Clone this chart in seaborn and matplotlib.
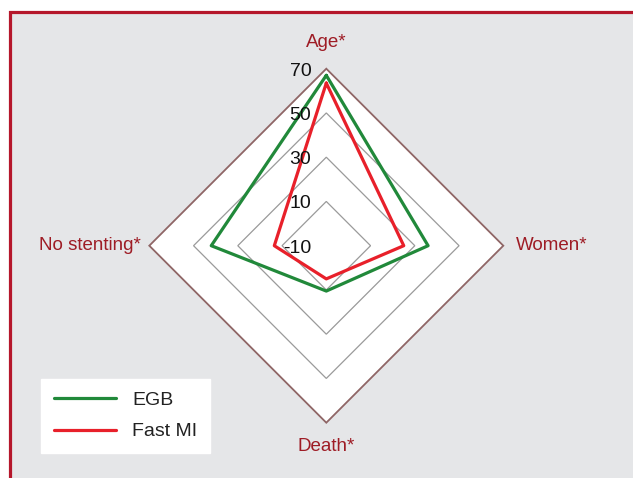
import numpy as np
import pandas as pd
import matplotlib
matplotlib.use('Agg')
import matplotlib.pyplot as plt
import seaborn as sns
from matplotlib.patches import Rectangle, Polygon
from matplotlib.lines import Line2D

# Data
categories = ['Age*', 'Women*', 'Death*', 'No stenting*']
egb = [67, 36, 10.5, 42]
fast_mi = [63.5, 25, 5, 13.5]
ring_values = [-10, 10, 30, 50, 70]
tick_labels = ['-10', '10', '30', '50', '70']

sns.set_style("white")
plt.rcParams['font.family'] = ['Liberation Sans', 'DejaVu Sans']

r_min = ring_values[0]
# angles: Age at top, then clockwise
angles = np.deg2rad([90, 0, -90, 180])


def to_xy(values):
    r = np.asarray(values, dtype=float) - r_min
    return r * np.cos(angles), r * np.sin(angles)


fig = plt.figure(figsize=(6.33, 4.78), dpi=100)
fig.patch.set_facecolor('white')

# grey panel with dark red frame on top/left
panel = Rectangle((10 / 633, -0.1), 1.2, (478 - 11.7) / 478 + 0.1,
                  transform=fig.transFigure, facecolor='#e5e6e8',
                  edgecolor='#b5172b', lw=2.3, zorder=-5)
fig.patches.append(panel)

ax = fig.add_axes([0, 0, 1, 1])
ax.set_zorder(1)
ax.set_facecolor('none')
ax.patch.set_alpha(0)
px = 177 / 80.0  # pixels per value unit
ax.set_xlim(-326.3 / px, (633 - 326.3) / px)
ax.set_ylim(-(478 - 245.7) / px, 245.7 / px)
ax.set_aspect('equal')

# rings
outer = ring_values[-1]
ox, oy = to_xy([outer] * 4)
ax.add_patch(Polygon(np.column_stack([ox, oy]), closed=True, facecolor='white',
                     edgecolor='#8f6666', lw=1.3, zorder=1))
for v in ring_values[1:-1]:
    gx, gy = to_xy([v] * 4)
    ax.add_patch(Polygon(np.column_stack([gx, gy]), closed=True, facecolor='none',
                         edgecolor='#9a9a9a', lw=0.9, zorder=2))

# series
rows = []
for name, vals in [('EGB', egb), ('Fast MI', fast_mi)]:
    xs, ys = to_xy(vals)
    for i in list(range(4)) + [0]:
        rows.append({'series': name, 'x': xs[i], 'y': ys[i]})
df = pd.DataFrame(rows)
palette = {'EGB': '#21893a', 'Fast MI': '#e8202a'}
sns.lineplot(data=df, x='x', y='y', hue='series', sort=False, estimator=None,
             palette=palette, lw=2.3, legend=False, ax=ax, zorder=4)
ax.axis('off')

# radial tick labels
for v, lab in zip(ring_values, tick_labels):
    ax.text(-15.0 / px, (v - r_min) - 2.5 / px, lab, ha='right', va='center',
            fontsize=14, color='#111111', zorder=5)

# category labels
lab_color = '#9e1c25'
fs = 13.5
R = outer - r_min
ax.text(0, R + 26 / px, categories[0], ha='center', va='center', fontsize=fs, color=lab_color)
ax.text(R + 13 / px, 0, categories[1], ha='left', va='center', fontsize=fs, color=lab_color)
ax.text(0, -R - 24 / px, categories[2], ha='center', va='center', fontsize=fs, color=lab_color)
ax.text(-R - 8 / px, 0, categories[3], ha='right', va='center', fontsize=fs, color=lab_color)

handles = [Line2D([0], [0], color=palette['EGB'], lw=2.3),
           Line2D([0], [0], color=palette['Fast MI'], lw=2.3)]
leg = ax.legend(handles, ['EGB', 'Fast MI'], loc='upper left',
                bbox_to_anchor=(41 / 633, 1 - 379 / 478), bbox_transform=fig.transFigure,
                borderaxespad=0, frameon=True, fancybox=False, fontsize=14,
                handlelength=3.2, handletextpad=0.85, labelspacing=0.7, borderpad=0.65)
leg.get_frame().set_facecolor('white')
leg.get_frame().set_edgecolor('white')
leg.get_frame().set_alpha(1)
for t in leg.get_texts():
    t.set_color('#222222')

plt.savefig('out.png', dpi=100, facecolor=fig.get_facecolor())
plt.close()
